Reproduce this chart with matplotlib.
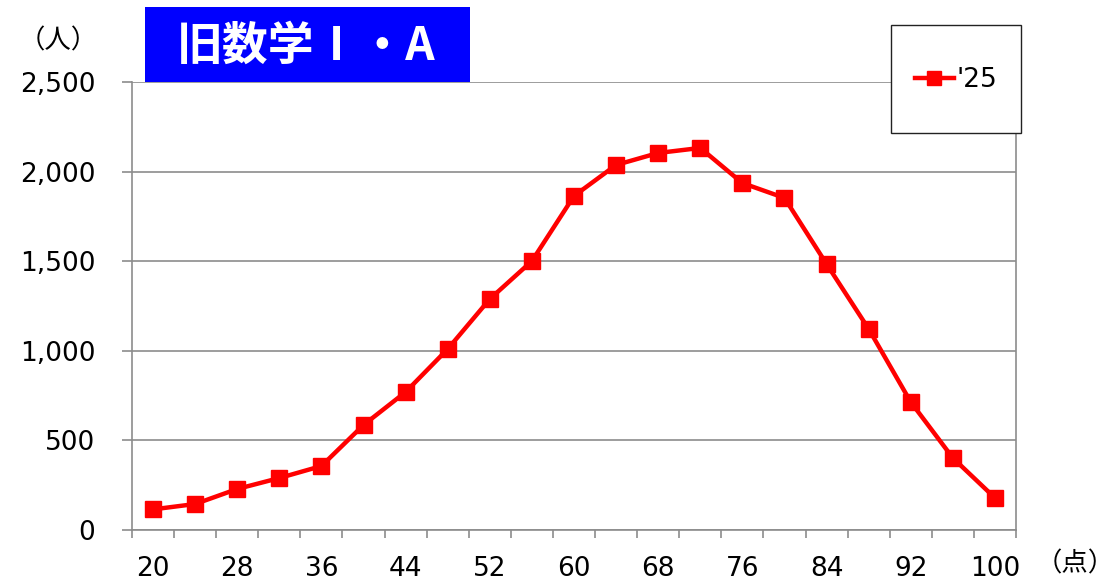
import matplotlib
matplotlib.use("Agg")
import matplotlib.pyplot as plt
from matplotlib.patches import Rectangle
from matplotlib.ticker import FuncFormatter, MultipleLocator

plt.rcParams['font.family'] = ['DejaVu Sans', 'Noto Sans CJK JP']

# scores (category axis) and number of examinees
scores = [20, 24, 28, 32, 36, 40, 44, 48, 52, 56, 60,
          64, 68, 72, 76, 80, 84, 88, 92, 96, 100]
counts = [115, 145, 229, 290, 357, 586, 770, 1010, 1289, 1501, 1864,
          2037, 2104, 2132, 1936, 1853, 1484, 1122, 714, 402, 179]
series_label = "'25"
title_text = "旧数学Ⅰ・A"

W, H = 1120, 582
fig = plt.figure(figsize=(W / 100, H / 100), dpi=100)
ax = fig.add_axes([132 / W, 1 - 530 / H, (1016 - 132) / W, (530 - 82) / H])

x = list(range(len(scores)))
line, = ax.plot(x, counts, color='#FF0000', lw=3.2, marker='s', markersize=11.5,
                markeredgecolor='#FF0000', label=series_label, zorder=3)

ax.set_xlim(-0.5, len(scores) - 0.5)
ax.set_ylim(0, 2500)
ax.yaxis.set_major_locator(MultipleLocator(500))
ax.yaxis.set_major_formatter(FuncFormatter(lambda v, p: f"{int(v):,}"))
ax.grid(axis='y', color='#8c8c8c', lw=1.2)
ax.set_axisbelow(True)

ax.set_xticks(x[::2])
ax.set_xticklabels([str(s) for s in scores[::2]])
ax.set_xticks([i - 0.5 for i in range(len(scores) + 1)], minor=True)
ax.tick_params(axis='x', which='major', length=0, pad=19, labelsize=19)
ax.tick_params(axis='x', which='minor', length=6, width=1.2, color='#8c8c8c')
ax.tick_params(axis='y', length=7.5, width=1.2, color='#8c8c8c', pad=19, labelsize=19)

for s in ['left', 'bottom', 'right']:
    ax.spines[s].set_color('#8c8c8c')
    ax.spines[s].set_linewidth(1.2)
ax.spines['top'].set_visible(False)

# title box
fig.patches.append(Rectangle((145 / W, 1 - 82 / H), 325 / W, 75 / H,
                             transform=fig.transFigure, facecolor='#0000FF',
                             edgecolor='none', zorder=5))
fig.text(306 / W, 1 - 47 / H, title_text, color='white', fontsize=33,
         fontweight='bold', ha='center', va='center', zorder=6,
         family=['Noto Sans CJK JP', 'DejaVu Sans'])

# legend box
fig.patches.append(Rectangle((891 / W, 1 - 133 / H), 130 / W, 108 / H,
                             transform=fig.transFigure, facecolor='white',
                             edgecolor='#222222', lw=1, zorder=5))
leg = fig.legend(handles=[line], loc='center', bbox_to_anchor=(956 / W, 1 - 80 / H),
                 frameon=False, fontsize=19, handlelength=1.5, handletextpad=0.1,
                 markerscale=0.85)
leg.set_zorder(6)

fig.text(58 / W, 1 - 41 / H, "（人）", fontsize=19, ha='center', va='center',
         family=['Noto Sans CJK JP', 'DejaVu Sans'])
fig.text(1075 / W, 1 - 564 / H, "（点）", fontsize=19, ha='center', va='center',
         family=['Noto Sans CJK JP', 'DejaVu Sans'])

fig.savefig('out.png', dpi=100)
